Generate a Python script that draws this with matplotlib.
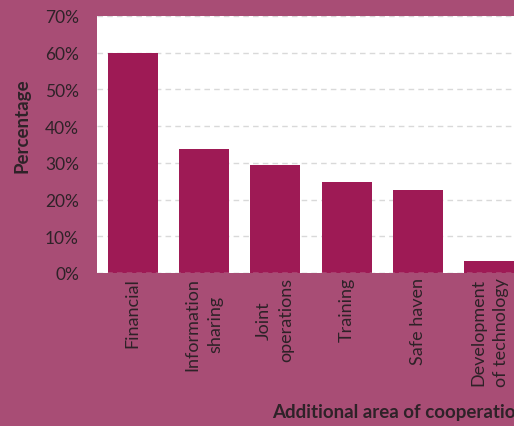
import matplotlib.pyplot as plt
import numpy as np

plt.rcParams['font.family'] = ['Lato', 'DejaVu Sans']

categories = ["Financial", "Information\nsharing", "Joint\noperations",
              "Training", "Safe haven", "Development\nof technology"]
values = [60.0, 33.8, 29.4, 24.8, 22.6, 3.3]
yticks = [0, 10, 20, 30, 40, 50, 60, 70]

bg = "#a84d75"
bar_color = "#9e1a55"
text_color = "#2e2228"

fig = plt.figure(figsize=(5.14, 4.27), dpi=100, facecolor=bg)
ax = fig.add_axes([97/514, 1 - 274/427, 428/514, 257/427])
ax.set_facecolor("white")

x = np.arange(len(categories))
ax.bar(x, values, width=0.7, color=bar_color, zorder=3)

ax.set_xlim(-0.5, len(categories) - 0.5)
ax.set_ylim(0, 70)
ax.set_yticks(yticks, [f"{t}%" for t in yticks], fontsize=12.5, color=text_color)
ax.set_xticks(x, categories, rotation=90, fontsize=13, color=text_color,
              ha="center", va="top", multialignment="center", linespacing=1.5)
ax.tick_params(length=0)
ax.tick_params(axis="y", pad=13)
ax.tick_params(axis="x", pad=3)

ax.yaxis.grid(True, color="#d9d9d9", linestyle=(0, (4, 3)), linewidth=1, zorder=0)
ax.set_axisbelow(True)
for s in ax.spines.values():
    s.set_visible(False)
ax.axhline(0, color="#d9d9d9", linestyle=(0, (4, 3)), linewidth=1, zorder=4)

# axis titles placed in figure coordinates; the x title runs off the right edge
fig.text(22/514, 1 - 126/427, "Percentage", rotation=90, ha="center", va="center",
         fontsize=13.5, fontweight="bold", color=text_color)
fig.text(272/514, 1 - 413/427, "Additional area of cooperation", ha="left", va="center",
         fontsize=13.5, fontweight="bold", color=text_color)

plt.savefig("out.png", dpi=100, facecolor=bg)
